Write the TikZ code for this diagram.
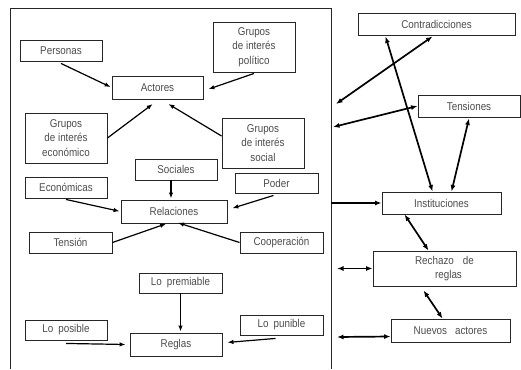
\documentclass[tikz,border=0pt]{standalone}
\usepackage{fontspec}
\setmainfont{Liberation Sans}[FakeStretch=0.87]
\usetikzlibrary{arrows.meta}
\begin{document}
\begin{tikzpicture}[x=1pt,y=-1pt,
  box/.style={draw=black!85, line width=0.9pt, fill=white, inner sep=0pt,
    text=black!70, align=center, font=\fontsize{11.3}{14.5}\selectfont},
  arr/.style={line width=1.2pt, -{Latex[length=6pt,width=4.5pt]}, shorten >=1pt},
  barr/.style={line width=1.7pt, {Latex[length=6.5pt,width=5pt]}-{Latex[length=6.5pt,width=5pt]}},
  farr/.style={line width=1.7pt, -{Latex[length=6.5pt,width=5pt]}}]
\useasboundingbox (0,0) rectangle (521,369);
\fill[white] (0,0) rectangle (521,369);
% open frame around the left part
\draw[line width=0.9pt, black!85] (10,369) -- (10,8) -- (331,8) -- (331,369);

% left part: actors
\node[box, minimum width=82pt, minimum height=21pt] (personas) at (61,50.5) {Personas};
\node[box, minimum width=91pt, minimum height=23pt] (actores) at (157.5,87.5) {Actores};
\node[box, minimum width=82pt, minimum height=50pt] (politico) at (254,47) {Grupos\\de interés\\político};
\node[box, minimum width=82pt, minimum height=50pt] (economico) at (66,138) {Grupos\\de interés\\económico};
\node[box, minimum width=82pt, minimum height=50pt] (social) at (263,143) {Grupos\\de interés\\social};
% relations
\node[box, minimum width=82pt, minimum height=21pt] (sociales) at (176,169.5) {Sociales};
\node[box, minimum width=83pt, minimum height=20pt] (poder) at (276.5,183) {Poder};
\node[box, minimum width=82pt, minimum height=21pt] (economicas) at (66,187.5) {Económicas};
\node[box, minimum width=106pt, minimum height=23pt] (relaciones) at (174,211.5) {Relaciones};
\node[box, minimum width=83pt, minimum height=21pt] (tension) at (70.5,242.5) {Tensión};
\node[box, minimum width=83pt, minimum height=21pt] (cooperacion) at (281.5,242.5) {Cooperación};
% rules
\node[box, minimum width=83pt, minimum height=20pt] (premiable) at (180.5,283) {Lo\hspace{5pt}premiable};
\node[box, minimum width=82pt, minimum height=20pt] (posible) at (66,330) {Lo\hspace{5pt}posible};
\node[box, minimum width=92pt, minimum height=23pt] (reglas) at (176,344.5) {Reglas};
\node[box, minimum width=83pt, minimum height=20pt] (punible) at (281.5,325) {Lo\hspace{5pt}punible};

% right column
\node[box, minimum width=157pt, minimum height=22pt] (contra) at (436.5,24) {Contradicciones};
\node[box, minimum width=102pt, minimum height=22pt] (tensiones) at (469,106) {Tensiones};
\node[box, minimum width=119pt, minimum height=22pt] (inst) at (441.5,203) {Instituciones};
\node[box, minimum width=143pt, minimum height=35pt] (rechazo) at (444.5,268.5) {Rechazo\hspace{9pt}de\\\hspace{8pt}reglas};
\node[box, minimum width=119pt, minimum height=23pt] (nuevos) at (450.5,330.5) {Nuevos\hspace{8pt}actores};

% free ends on the frame
\coordinate (fc) at (336,104);
\coordinate (ft) at (333,127);
\coordinate (fi) at (331,203);
\coordinate (fr) at (337,268.5);
\coordinate (fn) at (337,337);

% arrows inside the frame
\draw[arr] ([yshift=-2pt]personas.south) -- (actores.west);
\draw[arr] ([yshift=-1pt]politico.south) -- ([xshift=4pt,yshift=-2pt]actores.east);
\draw[arr] (economico.east) -- ([xshift=-4pt,yshift=-4pt]actores.south);
\draw[arr] ([yshift=7pt]social.west) -- ([xshift=10pt,yshift=-4pt]actores.south);
\draw[arr] ([xshift=-5pt]sociales.south) -- ([xshift=-3pt]relaciones.north);
\draw[arr] ([yshift=-1pt]economicas.south) -- (relaciones.west);
\draw[arr] ([xshift=-3pt,yshift=-2pt]poder.south) -- ([xshift=4pt,yshift=3pt]relaciones.east);
\draw[arr] (tension.east) -- ([xshift=-7pt]relaciones.south);
\draw[arr] (cooperacion.west) -- ([xshift=3pt,yshift=1pt]relaciones.south);
\draw[arr] (premiable.south) -- (premiable.south |- reglas.north);
\draw[arr] ([yshift=-3pt]posible.south) -- ([xshift=-3pt]reglas.west);
\draw[arr] ([xshift=-6pt,yshift=-3pt]punible.south) -- ([xshift=4pt,yshift=2pt]reglas.east);

% arrows of the right column
\draw[barr] ([xshift=-4pt,yshift=-1pt]contra.south) -- (fc);
\draw[barr] (tensiones.west) -- (ft);
\draw[barr] ([xshift=28pt,yshift=-1pt]contra.south west) -- ([xshift=-9pt]inst.north);
\draw[barr] ([yshift=-1pt]tensiones.south) -- ([xshift=10pt]inst.north);
\draw[farr] (fi) -- (inst.west);
\draw[barr] ([xshift=23pt]inst.south west) -- ([xshift=-16pt]rechazo.north);
\draw[barr] (rechazo.west) -- (fr);
\draw[barr] ([xshift=-21pt,yshift=-4pt]rechazo.south) -- ([xshift=-8pt]nuevos.north);
\draw[barr] ([yshift=-6pt]nuevos.west) -- (fn);
\end{tikzpicture}
\end{document}
